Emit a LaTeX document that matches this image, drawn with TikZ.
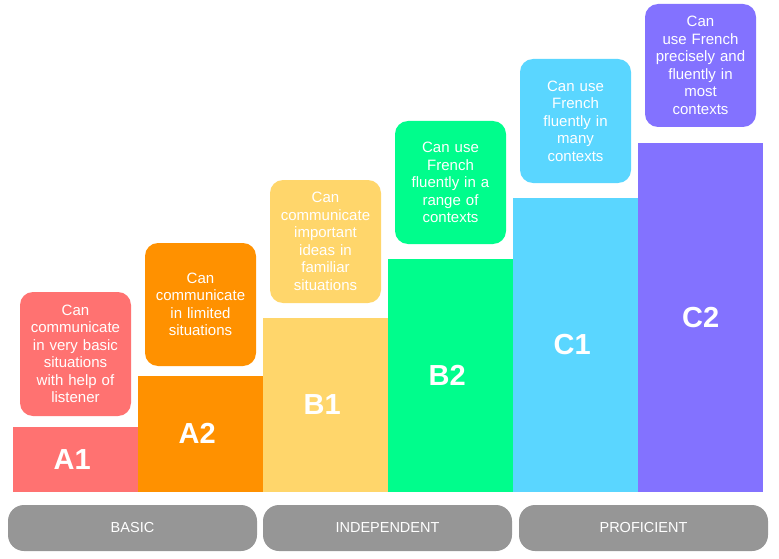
\documentclass[tikz,border=0pt]{standalone}
\usepackage{fontspec}
\setmainfont{Liberation Sans}
\definecolor{cA1}{HTML}{FF7271}
\definecolor{cA2}{HTML}{FF9100}
\definecolor{cB1}{HTML}{FFD66B}
\definecolor{cB2}{HTML}{00FD8C}
\definecolor{cC1}{HTML}{5AD6FF}
\definecolor{cC2}{HTML}{8372FF}
\definecolor{pillgray}{HTML}{969696}
\begin{document}
\begin{tikzpicture}[x=1pt,y=-1pt,
  bar/.style={fill=#1,inner sep=0pt,anchor=south west,minimum width=125pt},
  barlabel/.style={inner sep=0pt,text=white,font=\fontsize{29}{29}\selectfont\bfseries},
  desc/.style={fill=#1,rounded corners=13pt,inner sep=0pt,minimum width=111pt,
    text width=108pt,align=center,text=white,font=\fontsize{15}{17.5}\selectfont},
  pill/.style={fill=pillgray,rounded corners=16pt,minimum width=249pt,minimum height=46pt,
    inner sep=0pt,text=white,font=\fontsize{14.5}{16}\selectfont}]
\useasboundingbox (0,0) rectangle (779,559);
% bars
\node[bar=cA1,minimum height=65pt] (A1) at (13,492) {};
\node[bar=cA2,minimum height=116pt] (A2) at (138,492) {};
\node[bar=cB1,minimum height=174pt] (B1) at (263,492) {};
\node[bar=cB2,minimum height=233pt] (B2) at (388,492) {};
\node[bar=cC1,minimum height=294pt] (C1) at (513,492) {};
\node[bar=cC2,minimum height=349pt] (C2) at (638,492) {};
\node[barlabel] (lA1) at ([xshift=-3.5pt]A1.center) {A1};
\node[barlabel] (lA2) at ([xshift=-3.5pt]A2.center) {A2};
\node[barlabel] (lB1) at ([xshift=-3.5pt]B1.center) {B1};
\node[barlabel] (lB2) at ([xshift=-3.5pt]B2.center) {B2};
\node[barlabel] (lC1) at ([xshift=-3.5pt]C1.center) {C1};
\node[barlabel] (lC2) at (C2.center) {C2};
% description boxes
\node[desc=cA1,minimum height=124pt] (dA1) at (75.5,354) {Can\\communicate\\in very basic\\situations\\with help of\\listener};
\node[desc=cA2,minimum height=123pt] (dA2) at (200.5,304.5) {Can\\communicate\\in limited\\situations};
\node[desc=cB1,minimum height=123pt] (dB1) at (325.5,241.5) {Can\\communicate\\important\\ideas in\\familiar\\situations};
\node[desc=cB2,minimum height=123pt] (dB2) at (450.5,182.5) {Can use\\French\\fluently in a\\range of\\contexts};
\node[desc=cC1,minimum height=124pt] (dC1) at (575.5,121) {Can use\\French\\fluently in\\many\\contexts};
\node[desc=cC2,minimum height=123pt] (dC2) at (700.5,65.5) {Can\\use French\\precisely and\\fluently in\\most\\contexts};
% category pills
\node[pill] (basic) at (132.5,528) {BASIC};
\node[pill] (indep) at (387.5,528) {INDEPENDENT};
\node[pill] (prof) at (643.5,528) {PROFICIENT};
\end{tikzpicture}
\end{document}
